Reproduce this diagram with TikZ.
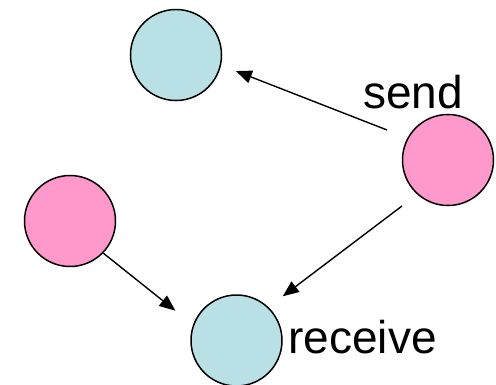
\documentclass[tikz,border=0pt]{standalone}
\usepackage{fontspec}
\setmainfont{Liberation Sans}
\usetikzlibrary{arrows.meta}
\definecolor{recvfill}{RGB}{185,224,228}
\definecolor{sendfill}{RGB}{255,153,204}
\tikzstyle{proc}=[circle,draw=black,line width=1.5pt,minimum size=91pt,inner sep=0pt]
\tikzstyle{msg} = [draw, line width=1.4pt, -{Triangle[length=16pt,width=13pt]}]
\tikzstyle{word}=[inner sep=0pt,font=\fontsize{46}{50}\selectfont]

\begin{document}
\begin{tikzpicture}[x=1pt,y=1pt]
    \useasboundingbox (0,0) rectangle (496,384);

    \foreach \pos/\name/\col in {{(176,329)/idle/recvfill}, {(448,224)/sender/sendfill}, {(70,163)/other/sendfill}, {(236.5,43.5)/receiver/recvfill}}
      \node[proc,fill=\col] (\name) at \pos {};

    \node[word,anchor=base] (sendtxt) at (413,276) {send};
    \node[word,anchor=base] (recvtxt) at (362.5,31) {receive};

    % the messages leave a gap at the circles
    \path[msg] ([shift={(153.8:68pt)}]sender.center) -- ([shift={(-15:62pt)}]idle.center);
    \path[msg] ([shift={(225:65pt)}]sender.center) -- ([shift={(43.7:64pt)}]receiver.center);
    \path[msg] (other.-44) -- ([shift={(154:68pt)}]receiver.center);

\end{tikzpicture}
\end{document}
